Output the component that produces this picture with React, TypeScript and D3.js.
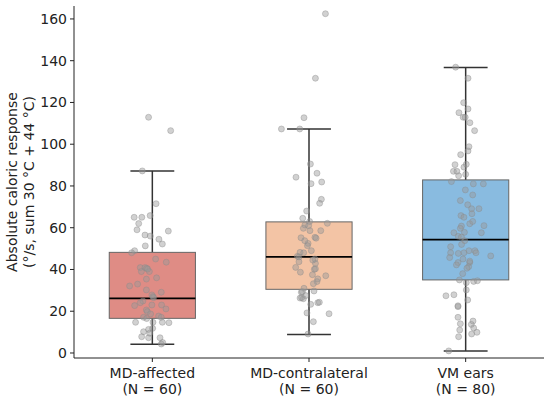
import { scaleLinear } from 'd3'

const CATEGORIES = ['MD-affected', 'MD-contralateral', 'VM ears']
const COUNTS = ['(N = 60)', '(N = 60)', '(N = 80)']
const COLORS = ['#df8c85', '#f3c4a5', '#89bbe0']
const Y_TICKS = [0, 20, 40, 60, 80, 100, 120, 140, 160]

// box stats: [whiskerLow, q1, median, q3, whiskerHigh]
const BOXES = [
  [4.2, 16.6, 26.2, 48.2, 87.2],
  [8.8, 30.5, 46.0, 62.8, 107.3],
  [1.0, 35.0, 54.3, 82.9, 136.7],
]

// points: [jitter (category units), value]
const MD_AFFECTED = [
  [-0.024, 112.9], [0.117, 106.5], [-0.064, 87.2], [0.024, 71.5], [-0.116, 65],
  [-0.067, 65], [-0.014, 65.8], [-0.098, 59], [0.102, 58.4], [-0.047, 56.5],
  [-0.013, 56], [0.042, 54.5], [0.064, 52.2], [-0.045, 51.3], [-0.113, 49],
  [-0.132, 48], [0.089, 43.5], [-0.077, 40.9], [-0.047, 40.9], [-0.036, 40.6],
  [-0.07, 39], [-0.019, 39], [-0.038, 35.4], [-0.094, 33], [-0.145, 32.1],
  [-0.038, 30.2], [0.057, 29.1], [-0.003, 27.8], [0.004, 27], [-0.06, 24.9],
  [-0.077, 24.1], [-0.113, 22.7], [-0.003, 23], [0.059, 23], [0.087, 21.1],
  [-0.038, 20.6], [-0.032, 19.8], [-0.011, 18.7], [-0.056, 17.1], [0.04, 17.7],
  [0.057, 17.1], [-0.107, 14.7], [0.004, 14.7], [0.064, 14.7], [0.106, 14.5],
  [-0.056, 10.2], [-0.024, 11.3], [0.002, 11.8], [-0.068, 7.8], [-0.024, 7.3],
  [0.049, 7.3], [0.057, 4.3], [0.066, 5], [-0.03, 40.2], [0.008, 26.5],
  [-0.036, 16.5], [-0.017, 9.5], [0.021, 45], [-0.087, 62], [0.027, 36],
]
const MD_CONTRALATERAL = [
  [0.105, 162.5], [0.041, 131.6], [-0.032, 112.7], [-0.176, 107.3], [-0.059, 107.3],
  [0.009, 90.5], [0.051, 86.1], [-0.083, 84.2], [0.013, 81.1], [0.081, 81.9],
  [0.079, 73.6], [0.068, 71.7], [-0.015, 68], [-0.04, 64.5], [0.117, 62.1],
  [-0.026, 61.3], [-0.002, 61], [-0.036, 59.7], [0.006, 58.6], [0.075, 58.6],
  [-0.051, 55.2], [0.038, 55.4], [0.045, 55], [-0.006, 52.5], [-0.01, 51.4],
  [0.015, 49], [-0.057, 48.2], [-0.034, 48], [-0.074, 46.3], [-0.064, 46],
  [0.038, 45], [-0.064, 43.7], [0.041, 42.9], [-0.085, 41], [0.034, 40.1],
  [0.041, 40.3], [-0.055, 38.7], [0.022, 37.5], [0.107, 37], [0.051, 34.2],
  [0.028, 33.2], [-0.032, 31], [0.032, 29.7], [-0.049, 29.1], [-0.042, 29.3],
  [-0.057, 26.3], [-0.036, 26], [-0.047, 26.5], [0.011, 23.3], [0.056, 24.1],
  [0.066, 24.3], [-0.013, 19.2], [0.128, 18.8], [0.028, 15], [-0.006, 9.1],
  [-0.027, 53.8], [0.024, 44.5], [-0.021, 27.5], [0.056, 35.5], [0.004, 63],
]
const VM_EARS = [
  [-0.064, 136.9], [0.015, 131.6], [-0.013, 119.9], [0.015, 116.9], [-0.043, 115.1],
  [-0.016, 112.9], [-0.003, 112.9], [0.027, 110.3], [0.057, 106.5], [0.021, 98.8],
  [0.015, 96.8], [-0.032, 95], [-0.068, 90.2], [0.004, 90.4], [-0.011, 89],
  [-0.078, 87], [-0.056, 87], [-0.045, 84.9], [0, 85.6], [-0.091, 82.1],
  [0.049, 81], [0.113, 81], [-0.002, 78.1], [0.045, 75.7], [-0.034, 73],
  [0.038, 69.1], [0.085, 69.1], [0.04, 66.7], [-0.03, 65.8], [-0.011, 65],
  [0.026, 61.9], [0.117, 61], [-0.027, 60.8], [-0.034, 59.7], [-0.075, 57.6],
  [-0.008, 57.8], [0.1, 57.6], [-0.047, 55.9], [-0.027, 55.5], [-0.006, 53.8],
  [-0.096, 50.9], [0.021, 49], [0.059, 49], [0.066, 48], [-0.096, 48],
  [-0.047, 47.7], [-0.011, 48], [-0.102, 45.7], [0.16, 46.5], [-0.017, 45],
  [-0.049, 43.3], [-0.059, 42.2], [0.026, 43.3], [0.019, 41.3], [0.008, 40.6],
  [-0.04, 35], [0.004, 33.7], [0.051, 34.3], [0.075, 34.6], [0.004, 30.2],
  [-0.126, 27.4], [-0.075, 27.9], [0.013, 25.4], [-0.049, 22.2], [-0.049, 22.6],
  [-0.049, 17.1], [0.047, 15.3], [0.036, 13.7], [-0.034, 14], [0.051, 12],
  [0.072, 9.9], [-0.038, 11], [-0.045, 7.8], [0.038, 9.1], [-0.108, 1.0],
  [-0.026, 52], [0.026, 44], [-0.019, 38], [0.045, 63], [0.013, 71],
]
const POINTS = [MD_AFFECTED, MD_CONTRALATERAL, VM_EARS]

export default function App() {
  const width = 550
  const height = 400
  const font = 'DejaVu Sans, sans-serif'
  const boxWidth = 0.55
  const capWidth = 0.28

  const x = scaleLinear().domain([-0.5, 2.5]).range([74, 544])
  const y = scaleLinear().domain([-2.4, 166.2]).range([358, 6])

  return (
    <svg
      width={width}
      height={height}
      style={{ position: 'absolute', left: 0, top: 0, background: '#fff' }}
      fontFamily={font}
    >
      {/* boxes */}
      {BOXES.map((b, i) => {
        const [lo, q1, med, q3, hi] = b
        const cx = x(i)
        return (
          <g key={i}>
            <line x1={cx} x2={cx} y1={y(q3)} y2={y(hi)} stroke='#333' strokeWidth={1.5} />
            <line x1={cx} x2={cx} y1={y(q1)} y2={y(lo)} stroke='#333' strokeWidth={1.5} />
            <line x1={x(i - capWidth / 2)} x2={x(i + capWidth / 2)} y1={y(hi)} y2={y(hi)} stroke='#333' strokeWidth={1.5} />
            <line x1={x(i - capWidth / 2)} x2={x(i + capWidth / 2)} y1={y(lo)} y2={y(lo)} stroke='#333' strokeWidth={1.5} />
            <rect
              x={x(i - boxWidth / 2)}
              y={y(q3)}
              width={x(i + boxWidth / 2) - x(i - boxWidth / 2)}
              height={y(q1) - y(q3)}
              fill={COLORS[i]}
              stroke='#666'
              strokeWidth={1}
            />
            <line x1={x(i - boxWidth / 2)} x2={x(i + boxWidth / 2)} y1={y(med)} y2={y(med)} stroke='#000' strokeWidth={1.8} />
          </g>
        )
      })}

      {/* points */}
      {POINTS.map((pts, i) =>
        pts.map((p, j) => (
          <circle
            key={`${i}-${j}`}
            cx={x(i + p[0])}
            cy={y(p[1])}
            r={3}
            fill='#9a9a9a'
            fillOpacity={0.45}
            stroke='#8a8a8a'
            strokeOpacity={0.5}
            strokeWidth={0.8}
          />
        ))
      )}

      {/* y axis */}
      <line x1={74} x2={74} y1={y.range()[0]} y2={y.range()[1]} stroke='#222' strokeWidth={1} />
      {Y_TICKS.map((t) => (
        <g key={t} transform={`translate(74, ${y(t)})`}>
          <line x2={-4} stroke='#222' />
          <text x={-7} dy='0.35em' textAnchor='end' fontSize={14} fill='#222'>
            {t}
          </text>
        </g>
      ))}
      <text
        transform={`translate(17, ${(y.range()[0] + y.range()[1]) / 2}) rotate(-90)`}
        textAnchor='middle'
        fontSize={14}
        fill='#222'
      >
        Absolute caloric response
      </text>
      <text
        transform={`translate(34, ${(y.range()[0] + y.range()[1]) / 2}) rotate(-90)`}
        textAnchor='middle'
        fontSize={14}
        fill='#222'
      >
        (°/s, sum 30 °C + 44 °C)
      </text>

      {/* x axis */}
      <line x1={x.range()[0]} x2={x.range()[1]} y1={358} y2={358} stroke='#222' strokeWidth={1} />
      {CATEGORIES.map((c, i) => (
        <g key={c} transform={`translate(${x(i)}, 358)`}>
          <line y2={4} stroke='#222' />
          <text y={20} textAnchor='middle' fontSize={14} fill='#222'>
            {c}
          </text>
          <text y={36} textAnchor='middle' fontSize={14} fill='#222'>
            {COUNTS[i]}
          </text>
        </g>
      ))}
    </svg>
  )
}
